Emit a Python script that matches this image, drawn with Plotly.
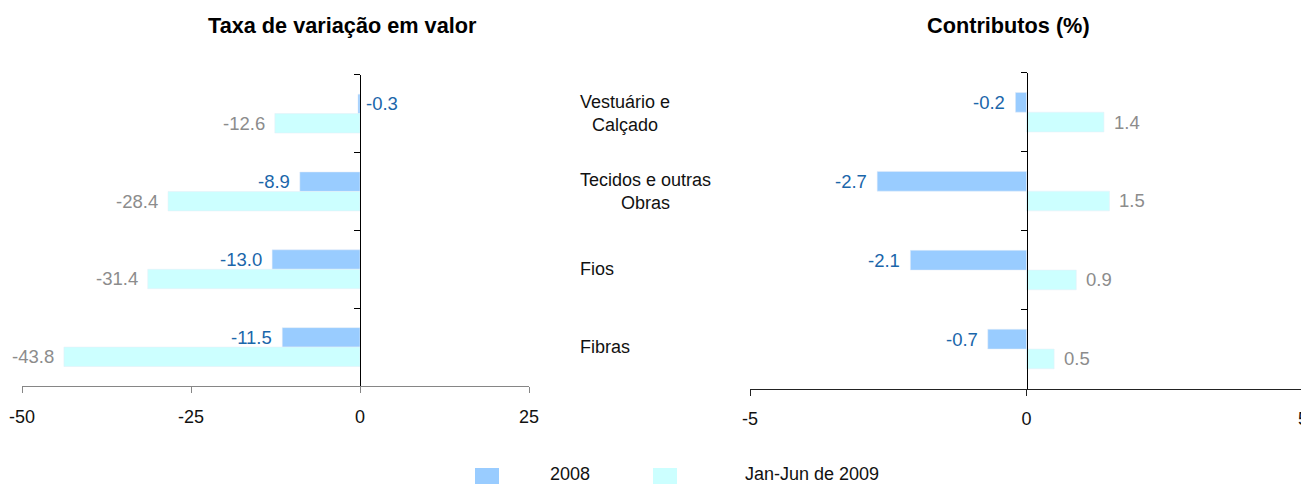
import plotly.graph_objects as go

categories = ["Vestuário e<br>Calçado", "Tecidos e outras<br>Obras", "Fios", "Fibras"]
series_names = ["2008", "Jan-Jun de 2009"]
taxa_2008 = [-0.3, -8.9, -13.0, -11.5]
taxa_2009 = [-12.6, -28.4, -31.4, -43.8]
contrib_2008 = [-0.2, -2.7, -2.1, -0.7]
contrib_2009 = [1.4, 1.5, 0.9, 0.5]
left_ticks = [-50, -25, 0, 25]
right_ticks = [-5, 0, 5]
titles = ["Taxa de variação em valor", "Contributos (%)"]

W, H = 1309, 484
OFF = 8  # page body margin
FONT = "Liberation Sans, Arial, sans-serif"
C08, C09 = "#99CCFF", "#CCFFFF"
L08, L09 = "#1A66AA", "#8C8C8C"

def px(x):
    return (x - OFF) / W

def py(y):
    return 1 - (y - OFF) / H

lx = [px(22), px(529)]
rx = [px(750), px(1303)]
ly = [py(386), py(74.7)]
ry = [py(388.5), py(72.7)]

fig = go.Figure()
fig.add_trace(go.Bar(y=categories, x=taxa_2008, orientation="h", marker_color=C08,
                     name=series_names[0], xaxis="x", yaxis="y", showlegend=False))
fig.add_trace(go.Bar(y=categories, x=taxa_2009, orientation="h", marker_color=C09,
                     name=series_names[1], xaxis="x", yaxis="y", showlegend=False))
fig.add_trace(go.Bar(y=categories, x=contrib_2008, orientation="h", marker_color=C08,
                     name=series_names[0], xaxis="x2", yaxis="y2", showlegend=False))
fig.add_trace(go.Bar(y=categories, x=contrib_2009, orientation="h", marker_color=C09,
                     name=series_names[1], xaxis="x2", yaxis="y2", showlegend=False))

lrange = [left_ticks[0], left_ticks[-1]]
rrange = [right_ticks[0], right_ticks[-1]]
lzero = lx[0] + (0 - lrange[0]) / (lrange[1] - lrange[0]) * (lx[1] - lx[0])
rzero = rx[0] + (0 - rrange[0]) / (rrange[1] - rrange[0]) * (rx[1] - rx[0])

xcommon = dict(showgrid=False, zeroline=False, showline=True, ticks="outside",
               ticklen=6, tickfont=dict(size=18, color="#111"), ticklabelstandoff=8,
               automargin=False)
ycommon = dict(type="category", categoryarray=categories, categoryorder="array",
               range=[3.5, -0.5], showgrid=False, zeroline=False, showline=True,
               ticks="outside", ticklen=6, tickson="boundaries", showticklabels=False,
               anchor="free", linecolor="#000", tickcolor="#000", automargin=False)

fig.update_layout(
    width=W, height=H, margin=dict(l=0, r=0, t=0, b=0, pad=0, autoexpand=False),
    paper_bgcolor="white", plot_bgcolor="rgba(0,0,0,0)",
    barmode="group", bargap=0.5, bargroupgap=0,
    font=dict(family=FONT, size=18, color="#111"),
    xaxis=dict(domain=lx, range=lrange, tickvals=left_ticks,
               ticktext=[str(t) for t in left_ticks], anchor="y",
               linecolor="#868686", tickcolor="#868686", **xcommon),
    yaxis=dict(domain=ly, position=lzero, **ycommon),
    xaxis2=dict(domain=rx, range=rrange, tickvals=right_ticks,
                ticktext=[str(t) for t in right_ticks], anchor="y2",
                linecolor="#222", tickcolor="#222", **xcommon),
    yaxis2=dict(domain=ry, position=rzero, **ycommon),
)

ann = []
# titles
ann.append(dict(text="<b>" + titles[0] + "</b>", x=px(342), y=py(25), xref="paper", yref="paper",
                xanchor="center", yanchor="middle", showarrow=False,
                font=dict(size=21.7, color="#000")))
ann.append(dict(text="<b>" + titles[1] + "</b>", x=px(1008), y=py(25), xref="paper", yref="paper",
                xanchor="center", yanchor="middle", showarrow=False,
                font=dict(size=21.7, color="#000")))
# category labels
for i, c in enumerate(categories):
    ann.append(dict(text=c, x=px(578), y=i, xref="paper", yref="y", xanchor="left",
                    yanchor="middle", align="center", showarrow=False,
                    font=dict(size=18, color="#111")))

# data labels
def add_labels(vals, offset, color, xref, yref):
    for i, v in enumerate(vals):
        if v < 0 and v > -1 and xref == "x":
            x, anchor, shift = 0, "left", 4
        elif v < 0:
            x, anchor, shift = v, "right", -8
        else:
            x, anchor, shift = v, "left", 8
        ann.append(dict(text=f"{v:.1f}", x=x, y=i + offset, xref=xref, yref=yref,
                        xanchor=anchor, yanchor="middle", xshift=shift, showarrow=False,
                        font=dict(size=18.5, color=color)))

add_labels(taxa_2008, -0.125, L08, "x", "y")
add_labels(taxa_2009, 0.125, L09, "x", "y")
add_labels(contrib_2008, -0.125, L08, "x2", "y2")
add_labels(contrib_2009, 0.125, L09, "x2", "y2")

# legend
shapes = []
for name, col, sx, tx in [(series_names[0], C08, 475, 548), (series_names[1], C09, 653, 743)]:
    shapes.append(dict(type="rect", xref="paper", yref="paper", x0=px(sx), x1=px(sx + 24),
                       y0=py(492), y1=py(468), fillcolor=col, line=dict(width=0)))
    ann.append(dict(text=name, x=px(tx), y=py(474), xref="paper", yref="paper",
                    xanchor="left", yanchor="middle", showarrow=False,
                    font=dict(size=18, color="#111")))

fig.update_layout(annotations=ann, shapes=shapes)
fig.write_html("out.html")
